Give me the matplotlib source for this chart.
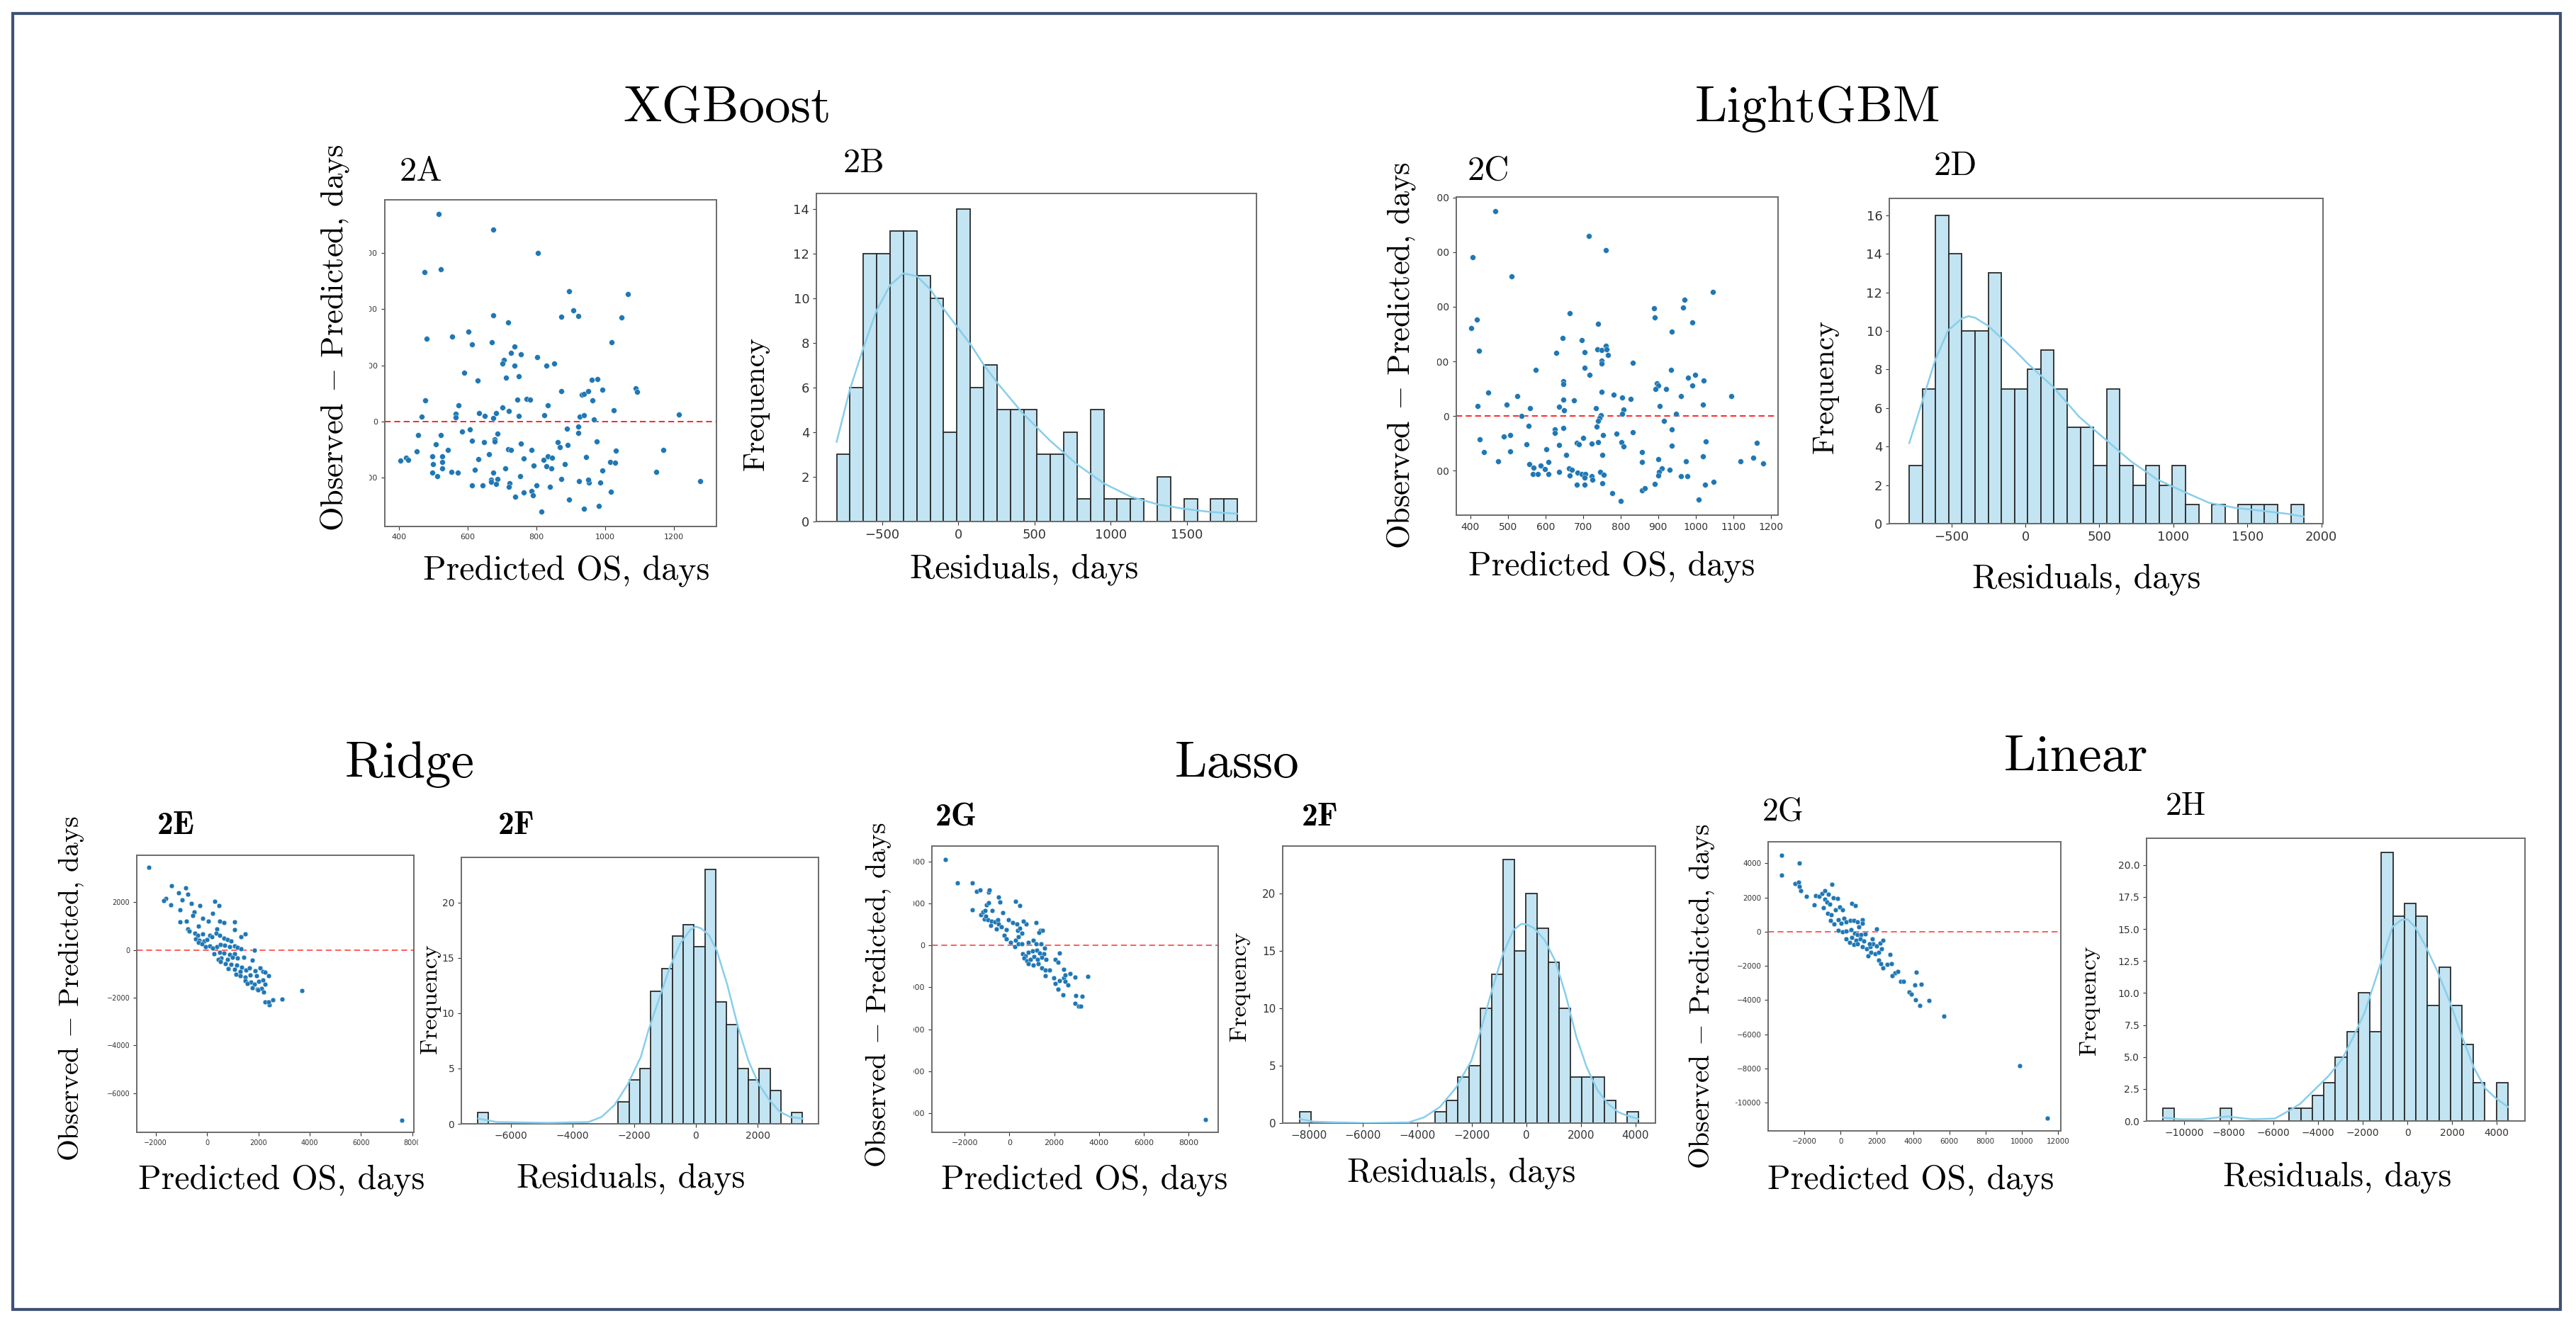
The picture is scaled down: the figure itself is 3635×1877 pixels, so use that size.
import matplotlib
matplotlib.use('Agg')
import matplotlib.pyplot as plt
from matplotlib.patches import Rectangle
from matplotlib.transforms import Bbox, TransformedBbox
import numpy as np

plt.rcParams['mathtext.fontset'] = 'cm'

W, H = 3635, 1877

# ---------------- data ----------------
# scatter: (predicted OS, observed - predicted)
xgb_points = [(516, 1846), (675, 1708), (805, 1500), (475, 1327), (522, 1354), (675, 944), (717, 880), (603, 798),
              (555, 753), (481, 734), (612, 684), (671, 705), (736, 670), (727, 609), (754, 596), (803, 572),
              (705, 545), (702, 513), (737, 495), (830, 495), (851, 513), (590, 431), (711, 391), (748, 402),
              (629, 367), (873, 269), (476, 186), (574, 146), (744, 194), (772, 200), (782, 192), (833, 144),
              (701, 125), (719, 90), (633, 77), (650, 48), (682, 72), (674, 27), (566, 67), (566, 35), (466, 45),
              (748, 48), (822, 56), (456, -122), (522, -122), (584, -90), (607, -74), (612, -173), (687, -112),
              (647, -184), (679, -160), (679, -181), (755, -197), (507, -202), (452, -266), (542, -255),
              (717, -250), (727, -253), (785, -255), (863, -184), (869, -229), (405, -348), (421, -322),
              (428, -343), (498, -309), (526, -314), (499, -378), (526, -362), (526, -420), (632, -338),
              (662, -290), (763, -333), (820, -340), (833, -314), (846, -322), (792, -394), (830, -402),
              (844, -420), (882, -383), (710, -418), (621, -434), (553, -447), (572, -458), (497, -458),
              (512, -487), (674, -458), (669, -519), (686, -511), (669, -540), (682, -559), (752, -487),
              (612, -567), (643, -567), (722, -553), (720, -580), (801, -572), (840, -580), (873, -513),
              (739, -673), (763, -636), (785, -620), (789, -660), (814, -803), (896, 1162), (1067, 1136),
              (907, 990), (873, 934), (922, 939), (1047, 926), (1019, 708), (961, 370), (977, 380), (992, 282),
              (932, 239), (939, 245), (950, 269), (1088, 298), (1093, 263), (964, 186), (1026, 101), (926, 43),
              (939, 53), (967, 19), (1215, 61), (888, -66), (921, -45), (921, -101), (892, -213), (976, -181),
              (1031, -261), (1170, -255), (944, -319), (1015, -364), (1030, -370), (993, -439), (1148, -447),
              (923, -532), (952, -545), (950, -521), (985, -545), (1277, -535), (1017, -625), (896, -697),
              (939, -777), (982, -750)]

lgbm_points = [(467, 1873), (715, 1647), (761, 1519), (406, 1451), (511, 1279), (1046, 1134), (971, 1064),
               (889, 987), (967, 995), (890, 900), (664, 944), (418, 881), (403, 807), (991, 856), (740, 845),
               (937, 774), (645, 717), (696, 698), (423, 597), (629, 578), (704, 586), (739, 608), (750, 605),
               (760, 644), (762, 608), (767, 559), (833, 491), (749, 507), (749, 480), (704, 442), (717, 379),
               (574, 423), (934, 423), (980, 352), (999, 376), (1021, 327), (648, 322), (648, 295), (897, 303),
               (900, 281), (893, 245), (921, 248), (991, 278), (447, 218), (749, 224), (525, 185), (781, 199),
               (1095, 183), (961, 185), (805, 169), (827, 155), (648, 150), (676, 145), (497, 104), (419, 90),
               (1019, 104), (904, 90), (637, 87), (559, 74), (734, 74), (649, 57), (808, 63), (804, 19), (536, 0),
               (947, 22), (748, 8), (743, -19), (740, -46), (737, -95), (916, -41), (556, -90), (648, -109),
               (937, -123), (626, -123), (626, -153), (789, -158), (833, -147), (490, -185), (506, -175),
               (425, -210), (700, -196), (740, -235), (753, -175), (724, -251), (683, -243), (690, -256),
               (802, -235), (808, -278), (637, -262), (1027, -229), (1162, -243), (550, -254), (507, -319),
               (436, -330), (603, -305), (857, -330), (937, -273), (1020, -368), (752, -355), (655, -355),
               (474, -412), (609, -417), (857, -417), (901, -393), (974, -412), (1119, -412), (1153, -382),
               (1180, -434), (557, -439), (568, -472), (587, -450), (566, -532), (579, -532), (599, -483),
               (609, -526), (637, -507), (663, -477), (670, -491), (665, -543), (686, -515), (697, -532),
               (706, -526), (705, -564), (704, -627), (724, -551), (725, -584), (746, -507), (756, -537),
               (910, -480), (902, -510), (930, -488), (900, -543), (960, -548), (978, -548), (683, -624),
               (752, -614), (777, -701), (800, -777), (857, -679), (865, -657), (891, -619), (1025, -624),
               (1047, -603), (1008, -764)]

ridge_points = [(-2256, 3444), (-1379, 2680), (-827, 2594), (-1596, 2162), (-1694, 2075), (-1123, 2378),
                (-758, 2320), (-1418, 1888), (-975, 2089), (-611, 1931), (-276, 1859), (286, 2046), (463, 1859),
                (-1064, 1686), (-493, 1585), (-561, 1441), (-158, 1326), (217, 1527), (-1054, 1182),
                (-808, 1210), (-335, 994), (59, 1196), (493, 1196), (660, 1138), (1084, 1167), (-739, 865),
                (-699, 793), (374, 879), (1084, 836), (1310, 548), (1487, 677), (-473, 692), (-374, 605),
                (-167, 663), (99, 605), (-443, 476), (-296, 389), (-128, 360), (0, 432), (177, 548), (345, 706),
                (493, 605), (650, 504), (798, 432), (936, 375), (-345, 303), (-207, 259), (-49, 144), (99, 159),
                (217, 86), (394, 130), (532, 231), (690, 202), (887, 130), (1064, 159), (1182, 115), (1330, 58),
                (1832, 0), (266, -159), (493, -101), (670, -144), (887, -187), (1084, -173), (552, -346),
                (788, -403), (985, -317), (1182, -331), (1428, -303), (424, -403), (512, -476), (709, -562),
                (936, -591), (1143, -634), (1359, -721), (1773, -418), (837, -793), (1064, -807), (1290, -893),
                (1527, -850), (1655, -749), (1872, -879), (2069, -749), (2187, -893), (2266, -937),
                (2403, -1066), (1133, -1009), (1281, -1066), (1497, -1138), (1675, -1038), (1921, -1081),
                (1478, -1297), (1694, -1355), (1852, -1441), (2019, -1326), (2167, -1268), (2266, -1427),
                (1576, -1412), (1753, -1571), (1950, -1643), (2118, -1628), (2216, -1758), (1990, -1686),
                (2246, -2190), (2433, -2291), (2394, -2176), (2561, -2075), (2935, -2061), (3694, -1700),
                (7585, -7133)]

lasso_points = [(-2875, 4089), (-2338, 2972), (-1663, 2972), (-1475, 2594), (-1300, 2644), (-938, 2545),
                (-888, 2644), (-1650, 1708), (-1025, 1938), (-925, 2053), (-475, 2299), (-438, 2085), (262, 2102),
                (450, 1921), (-1275, 1461), (-1188, 1593), (-1100, 1675), (-775, 1658), (-300, 1560),
                (-1125, 1248), (-963, 1232), (-813, 1149), (-650, 1133), (-525, 1232), (-1063, 1396),
                (-825, 969), (-588, 772), (-488, 1018), (-350, 903), (-150, 739), (-50, 1232), (138, 1084),
                (350, 1034), (738, 1018), (625, 1149), (1175, 1084), (-250, 476), (-125, 328), (38, 148),
                (275, 246), (413, 411), (550, 575), (363, 706), (475, 821), (1388, 722), (1488, 722), (1313, 608),
                (250, -49), (413, 82), (550, 66), (850, 131), (1050, 263), (1200, 82), (1413, 66), (1575, -131),
                (600, -411), (725, -493), (850, -328), (1025, -246), (1225, -213), (1350, -361), (1538, -411),
                (663, -608), (788, -739), (950, -657), (1100, -542), (1263, -657), (1438, -575), (1625, -673),
                (850, -870), (1050, -936), (1275, -870), (1450, -1067), (1600, -1166), (1788, -1166),
                (1600, -1445), (2225, -345), (2038, -673), (2175, -788), (1975, -1560), (2038, -1823),
                (2250, -1675), (2163, -2085), (2413, -1560), (2475, -1724), (2600, -1888), (2413, -1149),
                (2475, -1396), (2725, -1330), (2925, -1527), (2388, -2348), (2950, -2381), (3263, -2414),
                (3500, -1478), (2938, -2759), (3075, -2906), (3188, -2906), (8763, -8292)]

linear_points = [(-3240, 4453), (-3240, 3290), (-2280, 4032), (-2535, 2828), (-2310, 2889), (-2265, 2648),
                 (-2190, 2387), (-1905, 2066), (-1470, 1585), (-1365, 2086), (-1185, 2046), (-1035, 2247),
                 (-855, 2387), (-660, 2187), (-465, 2768), (-885, 1886), (-765, 1725), (-585, 1625), (-405, 1966),
                 (-165, 1926), (-960, 1384), (-735, 1083), (-510, 983), (-285, 1284), (-60, 1444), (90, 1284),
                 (615, 1645), (795, 1545), (-555, 642), (-345, 441), (-135, 682), (15, 481), (195, 782),
                 (315, 582), (540, 662), (735, 642), (915, 582), (1185, 682), (1215, 481), (-135, 80), (90, -20),
                 (315, 40), (570, 120), (765, -80), (990, 281), (915, -160), (1140, -181), (1365, -120),
                 (1995, 160), (315, -421), (615, -321), (840, -522), (1065, -421), (1290, -562), (495, -622),
                 (735, -762), (945, -722), (1185, -883), (1440, -1023), (1635, -883), (1785, -722), (1965, -822),
                 (2190, -682), (2340, -522), (1665, -1224), (1890, -1284), (2115, -1224), (2265, -1023),
                 (1515, -1424), (1590, -722), (1740, -421), (2715, -1324), (2115, -1685), (2235, -1886),
                 (2340, -2126), (2565, -1926), (2790, -1886), (3015, -2427), (2835, -2568), (3165, -2327),
                 (3315, -2929), (3465, -2889), (3765, -3531), (3885, -3651), (4095, -3129), (4140, -3972),
                 (4440, -3089), (4365, -4333), (4185, -2387), (4890, -4012), (5715, -4955), (9870, -7843),
                 (11415, -10913)]

# histograms: 30 bins each, first edge and bin width in days
xgb_counts = [3, 6, 12, 12, 13, 13, 11, 10, 4, 14, 6, 7, 5, 5, 5, 3, 3, 4, 1, 5, 1, 1, 1, 0, 2, 0, 1, 0, 1, 1]
xgb_bins = (-797, 87.6)
lgbm_counts = [3, 7, 16, 14, 10, 10, 13, 7, 7, 8, 9, 7, 5, 5, 3, 7, 3, 2, 3, 2, 3, 1, 0, 1, 0, 1, 1, 1, 0, 1]
lgbm_bins = (-785, 88.9)
ridge_counts = [1, 0, 0, 0, 0, 0, 0, 0, 0, 0, 0, 0, 0, 2, 4, 5, 12, 14, 17, 18, 16, 23, 11, 9, 5, 4, 5, 3, 0, 1]
ridge_bins = (-7083, 351.3)
lasso_counts = [1, 0, 0, 0, 0, 0, 0, 0, 0, 0, 0, 0, 1, 2, 4, 5, 10, 13, 23, 15, 20, 17, 14, 10, 4, 4, 4, 2, 0, 1]
lasso_bins = (-8325, 414.5)
linear_counts = [1, 0, 0, 0, 0, 1, 0, 0, 0, 0, 0, 1, 1, 2, 3, 5, 7, 10, 7, 21, 16, 17, 16, 9, 12, 9, 6, 3, 0, 3]
linear_bins = (-10967, 515.7)

# density curves drawn over the histograms (residual, frequency)
xgb_kde = [(-797, 3.57), (-711, 5.90), (-622, 7.77), (-536, 9.44), (-447, 10.58), (-359, 11.11), (-270, 10.98),
           (-181, 10.38), (-95, 9.51), (-6, 8.71), (83, 7.91), (172, 6.97), (261, 6.17), (424, 4.84), (601, 3.63),
           (779, 2.56), (957, 1.70), (1135, 1.10), (1313, 0.76), (1490, 0.56), (1653, 0.43), (1831, 0.35)]
lgbm_kde = [(-785, 4.18), (-698, 6.32), (-610, 8.48), (-522, 10.03), (-428, 10.65), (-384, 10.76), (-340, 10.68),
            (-252, 10.26), (-164, 9.64), (-76, 9.02), (12, 8.33), (100, 7.71), (188, 7.09), (275, 6.32),
            (363, 5.54), (539, 4.38), (715, 3.22), (891, 2.29), (1067, 1.67), (1241, 1.08), (1418, 0.82),
            (1594, 0.67), (1770, 0.51), (1882, 0.36)]
ridge_kde = [(-7049, 0.47), (-6454, 0.16), (-4756, 0.09), (-3482, 0.16), (-3057, 0.62), (-2633, 1.71),
             (-2208, 3.57), (-1783, 6.05), (-1529, 8.53), (-1189, 11.32), (-849, 14.11), (-510, 16.28),
             (-170, 17.58), (0, 17.83), (170, 17.67), (425, 17.05), (679, 15.66), (1019, 12.56), (1359, 8.84),
             (1699, 5.74), (2038, 3.57), (2378, 2.17), (2718, 1.09), (3057, 0.62), (3456, 0.47)]
lasso_kde = [(-8325, 0.36), (-7796, 0.12), (-5871, 0.0), (-4331, 0.06), (-3754, 0.51), (-3176, 1.41),
             (-2599, 3.05), (-2021, 5.45), (-1636, 8.44), (-1251, 11.74), (-866, 14.73), (-481, 16.83),
             (-192, 17.37), (0, 17.34), (289, 16.98), (674, 15.93), (1059, 14.13), (1444, 11.14), (1829, 7.54),
             (2214, 4.85), (2599, 2.90), (2984, 1.71), (3369, 0.96), (3754, 0.60), (4110, 0.36)]
linear_kde = [(-10966, 0.27), (-10212, 0.13), (-9207, 0.13), (-8076, 0.35), (-6946, 0.13), (-5941, 0.19),
              (-5313, 0.8), (-4810, 1.34), (-4181, 2.42), (-3554, 3.49), (-2926, 4.83), (-2424, 6.58),
              (-1922, 8.46), (-1418, 11.14), (-1042, 13.15), (-665, 15.17), (-288, 15.70), (0, 15.76),
              (339, 15.17), (842, 13.56), (1346, 11.68), (1910, 9.26), (2450, 6.58), (2979, 4.16), (3482, 2.55),
              (3984, 1.74), (4505, 1.1)]

# ---------------- figure ----------------
fig = plt.figure(figsize=(W / 100, H / 100), dpi=100)

SERIF = ['cmr10', 'DejaVu Serif']
BOLD = ['cmb10', 'DejaVu Serif']
BAR_FACE = '#c3e4f2'
KDE_COLOR = '#87ceeb'
DOT_COLOR = '#1f77b4'


def panel(l, t, r, b):
    ax = fig.add_axes([l / W, 1 - b / H, (r - l) / W, (b - t) / H])
    for s in ax.spines.values():
        s.set_color('#6a6a6a')
        s.set_linewidth(1.4)
    return ax


def text(x, y, s, size, fam=SERIF, rot=0, ha='center', va='baseline'):
    fig.text(x / W, 1 - y / H, s, fontsize=size, family=fam, rotation=rot, ha=ha, va=va)


def scatter_panel(box, pts, xlim, ylim, xticks, yticks, tsize, ms, line_color):
    ax = panel(*box)
    x, y = zip(*pts)
    ax.scatter(x, y, s=ms, color=DOT_COLOR, edgecolor='white', linewidth=0.3, zorder=3)
    ax.axhline(0, color=line_color, ls=(0, (5, 3)), lw=1.2, zorder=2)
    ax.set_xlim(xlim)
    ax.set_ylim(ylim)
    ax.set_xticks(xticks)
    ax.set_yticks(yticks)
    ax.tick_params(labelsize=tsize, colors='#333333', length=3.5, width=0.8)
    return ax


def hist_panel(box, counts, bins, kde, xlim, ylim, xticks, yticks, tsize):
    ax = panel(*box)
    start, width = bins
    counts = np.array(counts)
    edges = start + width * np.arange(len(counts))
    keep = counts > 0
    ax.bar(edges[keep], counts[keep], width=width, align='edge', color=BAR_FACE,
           edgecolor='#2b2b2b', linewidth=1.3, zorder=2)
    kx, ky = zip(*kde)
    ax.plot(kx, ky, color=KDE_COLOR, lw=1.8, zorder=3)
    ax.set_xlim(xlim)
    ax.set_ylim(ylim)
    ax.set_xticks(xticks)
    ax.set_yticks(yticks)
    ax.tick_params(labelsize=tsize, colors='#333333', length=3.5, width=0.8)
    return ax


# top row
axA = scatter_panel((543, 282, 1011, 743), xgb_points, (359, 1324), (-936, 1974),
                    range(400, 1201, 200), range(-500, 1501, 500), 8, 32, 'red')
axB = hist_panel((1152, 273, 1773, 736), xgb_counts, xgb_bins, xgb_kde, (-930, 1956), (0, 14.69),
                 range(-500, 1501, 500), range(0, 15, 2), 13)
axC = scatter_panel((2055, 278, 2509, 727), lgbm_points, (363, 1219), (-905, 2004),
                    range(400, 1201, 100), range(-500, 2001, 500), 10, 32, 'red')
axD = hist_panel((2666, 280, 3278, 739), lgbm_counts, lgbm_bins, lgbm_kde, (-920, 2011), (0, 16.87),
                 range(-500, 2001, 500), range(0, 17, 2), 13)

# bottom row
axE = scatter_panel((193, 1207, 584, 1598), ridge_points, (-2739, 8059), (-7637, 3963),
                    range(-2000, 8001, 2000), range(-6000, 2001, 2000), 7, 24, '#ff4040')
axF = hist_panel((651, 1210, 1155, 1586), ridge_counts, ridge_bins, ridge_kde, (-7601, 3975), (0, 24.09),
                 range(-6000, 2001, 2000), range(0, 21, 5), 10)
axG = scatter_panel((1315, 1194, 1719, 1598), lasso_points, (-3463, 9325), (-8916, 4745),
                    range(-2000, 8001, 2000), range(-8000, 4001, 2000), 8, 24, '#ff4040')
axF2 = hist_panel((1810, 1194, 2336, 1585), lasso_counts, lasso_bins, lasso_kde, (-8951, 4735), (0, 24.16),
                  range(-8000, 4001, 2000), range(0, 21, 5), 11)
axG2 = scatter_panel((2495, 1188, 2908, 1596), linear_points, (-4003, 12159), (-11653, 5255),
                     range(-2000, 12001, 2000), range(-10000, 4001, 2000), 7.5, 24, '#ff4040')
axH = hist_panel((3029, 1183, 3563, 1582), linear_counts, linear_bins, linear_kde, (-11695, 5268), (0, 22.09),
                 range(-10000, 4001, 2000), np.arange(0, 20.1, 2.5), 10)

# group titles
text(1026, 172, 'XGBoost', 52.5)
text(2565, 172, 'LightGBM', 52.5)
text(578, 1097, 'Ridge', 52.5)
text(1746, 1097, 'Lasso', 52.5)
text(2930, 1088, 'Linear', 52.5)

# panel letters
for x, y, s in [(564, 255, '2A'), (1190, 243, '2B'), (2071, 254, '2C'), (2729, 247, '2D')]:
    text(x, y, s, 35, ha='left')
for x, y, s in [(222, 1177, '2E'), (703, 1177, '2F'), (1320, 1165, '2G'), (1837, 1165, '2F')]:
    text(x, y, s, 33, fam=BOLD, ha='left')
for x, y, s in [(2487, 1158, '2G'), (3056, 1150, '2H')]:
    text(x, y, s, 33, ha='left')

# axis labels
ylab = r'Observed $-$ Predicted, days'
for x, y in [(799, 818), (2274, 812)]:
    text(x, y, 'Predicted OS, days', 34.5)
for x, y in [(1445, 815), (2944, 830)]:
    text(x, y, 'Residuals, days', 34.5)
for x, y in [(472, 477), (1977, 502)]:
    text(x, y, ylab, 32, rot=90, va='center')
for x, y in [(1067, 570), (2576, 546)]:
    text(x, y, 'Frequency', 30, rot=90, va='center')

for x, y in [(397, 1677), (1530, 1677), (2696, 1677)]:
    text(x, y, 'Predicted OS, days', 34.5)
for x, y in [(890, 1675), (2062, 1667), (3298, 1673)]:
    text(x, y, 'Residuals, days', 34.5)
for x, y in [(101, 1395), (1239, 1404), (2401, 1406)]:
    text(x, y, ylab, 28.5, rot=90, va='center')
for x, y in [(607, 1410), (1749, 1392), (2948, 1412)]:
    text(x, y, 'Frequency', 24.5, rot=90, va='center')

# the source panels were cut at their edges: clip the tick labels the same way
fig.canvas.draw()


def clip_ticklabels(ax, x0=0, x1=W):
    bb = TransformedBbox(Bbox.from_extents(x0 / W, 0, x1 / W, 1), fig.transFigure)
    for t in ax.get_xticklabels() + ax.get_yticklabels():
        t.set_clip_on(True)
        t.set_clip_box(bb)


clip_ticklabels(axA, x0=521)
clip_ticklabels(axC, x0=2028)
clip_ticklabels(axG, x0=1289)
clip_ticklabels(axG2, x0=2449)
clip_ticklabels(axE, x1=590)

# outer frame
fig.add_artist(Rectangle((18 / W, 1 - 1848 / H), (3613 - 18) / W, (1848 - 19) / H,
                         transform=fig.transFigure, fill=False, edgecolor='#3f5275', linewidth=3))

fig.savefig('out.png', dpi=100)
